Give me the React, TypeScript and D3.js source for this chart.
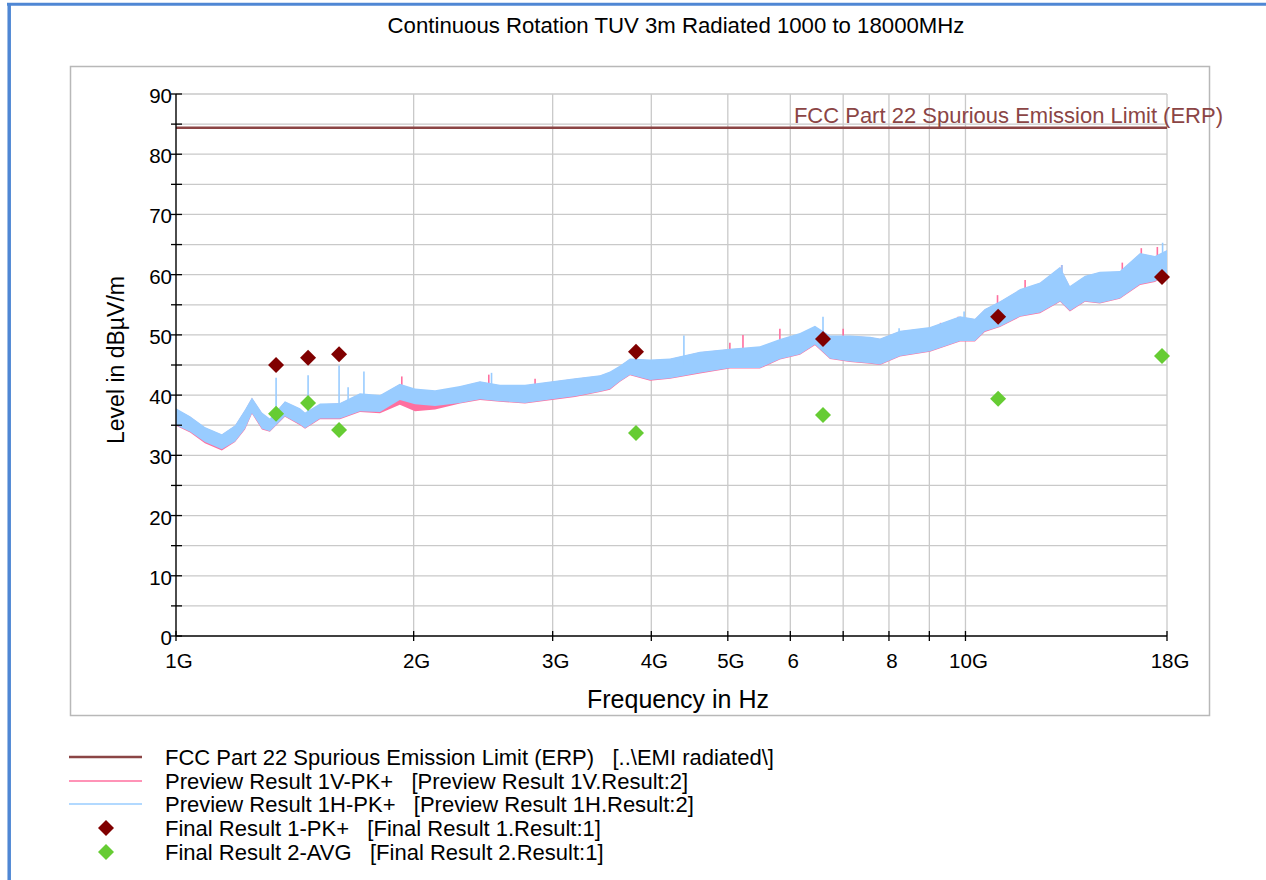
import React from "react";
import * as d3 from "d3";

const W = 1266;
const H = 880;

const TITLE = "Continuous Rotation TUV 3m Radiated 1000 to 18000MHz";
const X_LABEL = "Frequency in Hz";
const Y_LABEL = "Level in dB\u00B5V/m";
const LIMIT_LABEL = "FCC Part 22 Spurious Emission Limit (ERP)";
const LIMIT_LEVEL = 84.4;

const xTickValues = [1, 2, 3, 4, 5, 6, 8, 10, 18];
const xTickLabels = ["1G", "2G", "3G", "4G", "5G", "6", "8", "10G", "18G"];
const xMinorTicks = [1, 2, 3, 4, 5, 6, 7, 8, 9, 10, 18];
const yMajorTicks = [0, 10, 20, 30, 40, 50, 60, 70, 80, 90];
const yGridTicks = [5, 10, 15, 20, 25, 30, 35, 40, 45, 50, 55, 60, 65, 70, 75, 80, 85, 90];

// Preview traces (GHz), envelope
const traceFreq = [1.0, 1.042, 1.088, 1.143, 1.188, 1.223, 1.248, 1.285, 1.315, 1.374, 1.436, 1.457, 1.522, 1.613, 1.71, 1.813, 1.921, 2.008, 2.129, 2.289, 2.427, 2.573, 2.767, 2.994, 3.202, 3.444, 3.546, 3.651, 3.759, 3.986, 4.225, 4.61, 5.031, 5.491, 5.822, 6.171, 6.447, 6.736, 7.141, 7.57, 7.795, 8.262, 9.017, 9.841, 10.28, 10.58, 11.06, 11.73, 12.43, 13.18, 13.56, 14.17, 14.8, 15.69, 16.64, 17.38, 18.0];
const blueHigh = [37.8, 36.5, 34.7, 33.5, 35.0, 37.6, 39.6, 37.1, 36.1, 39.0, 37.8, 37.1, 38.6, 38.7, 40.3, 40.0, 41.9, 41.1, 40.8, 41.5, 42.3, 41.7, 41.7, 42.3, 42.8, 43.3, 43.9, 44.9, 46.1, 45.9, 46.1, 47.2, 47.7, 48.1, 49.3, 50.3, 51.5, 49.9, 49.9, 49.7, 49.4, 50.7, 51.3, 53.1, 52.7, 54.3, 55.6, 57.6, 58.7, 61.3, 58.1, 59.8, 60.5, 60.6, 63.6, 63.1, 64.1];
const blueLow = [35.0, 33.9, 32.2, 31.0, 32.3, 34.4, 37.0, 34.4, 34.0, 36.5, 35.1, 34.5, 36.1, 36.1, 37.3, 37.2, 39.2, 38.5, 38.2, 38.7, 39.3, 39.0, 38.7, 39.3, 39.8, 40.6, 41.0, 42.3, 43.4, 42.5, 42.8, 43.7, 44.5, 44.5, 46.0, 46.8, 48.4, 46.1, 45.6, 45.3, 45.1, 46.5, 47.3, 49.0, 49.0, 50.6, 51.4, 53.1, 53.7, 55.6, 54.0, 55.6, 55.3, 56.1, 58.4, 58.9, 60.1];
const pinkHigh = [37.7, 36.4, 34.6, 33.4, 34.9, 37.5, 39.5, 37.0, 36.0, 38.9, 37.7, 37.0, 38.5, 38.6, 40.2, 39.9, 41.8, 40.9, 40.6, 41.4, 42.2, 41.6, 41.6, 42.2, 42.7, 43.2, 43.8, 44.8, 46.0, 45.8, 46.0, 47.1, 47.6, 48.0, 49.2, 50.2, 51.4, 49.8, 49.8, 49.6, 49.3, 50.6, 51.2, 53.0, 52.6, 54.2, 55.5, 57.5, 58.6, 61.2, 58.0, 59.7, 60.4, 60.5, 63.5, 63.0, 64.0];
const pinkLow = [34.9, 33.8, 32.0, 30.8, 32.2, 34.3, 36.9, 34.3, 33.9, 36.4, 35.0, 34.4, 36.0, 36.0, 37.2, 37.0, 38.4, 37.3, 37.6, 38.6, 39.2, 38.9, 38.6, 39.2, 39.7, 40.5, 40.9, 42.2, 43.3, 42.4, 42.7, 43.6, 44.4, 44.4, 45.9, 46.7, 48.3, 46.0, 45.5, 45.2, 45.0, 46.4, 47.2, 48.9, 48.9, 50.5, 51.3, 53.0, 53.6, 55.5, 53.9, 55.5, 55.2, 56.0, 58.3, 58.8, 60.0];

// Narrow spikes on the preview traces
const spikeFreq = [1.339, 1.47, 1.609, 1.652, 1.73, 2.51, 4.399, 6.6, 8.24, 9.96, 13.25, 17.77, 1.932, 2.49, 2.85, 5.03, 5.226, 5.82, 7.0, 9.3, 9.79, 10.98, 11.9, 12.9, 13.24, 15.8, 16.7, 17.5];
const spikeTop = [42.9, 43.3, 44.9, 41.3, 43.9, 43.7, 49.9, 53.0, 51.1, 53.9, 61.6, 65.3, 43.1, 43.4, 42.7, 48.7, 50.0, 51.0, 51.0, 52.0, 53.0, 56.6, 59.1, 59.6, 61.6, 62.0, 64.4, 64.6];
const spikeBase = [36.0, 37.0, 37.5, 38.0, 38.5, 41.0, 45.0, 49.0, 49.5, 52.0, 59.0, 61.5, 40.5, 40.5, 40.5, 46.5, 46.5, 48.0, 48.5, 50.0, 51.5, 53.5, 56.0, 57.0, 58.5, 59.0, 61.5, 61.5];
const spikeSeries = ["H", "H", "H", "H", "H", "H", "H", "H", "H", "H", "H", "H", "V", "V", "V", "V", "V", "V", "V", "V", "V", "V", "V", "V", "V", "V", "V", "V"];

// Final results
const pkFreq = [1.339, 1.47, 1.609, 3.825, 6.6, 11.0, 17.74];
const pkLevel = [45.0, 46.2, 46.8, 47.2, 49.3, 53.0, 59.6];
const avgFreq = [1.339, 1.47, 1.609, 3.825, 6.6, 11.0, 17.74];
const avgLevel = [36.9, 38.7, 34.2, 33.7, 36.7, 39.4, 46.5];

const legendLabels = [
  "FCC Part 22 Spurious Emission Limit (ERP)   [..\\EMI radiated\\]",
  "Preview Result 1V-PK+   [Preview Result 1V.Result:2]",
  "Preview Result 1H-PK+   [Preview Result 1H.Result:2]",
  "Final Result 1-PK+   [Final Result 1.Result:1]",
  "Final Result 2-AVG   [Final Result 2.Result:1]",
];

const C_LIMIT = "#8b4545";
const C_PINK = "#ff6f9f";
const C_BLUE = "#99ccff";
const C_PK = "#800000";
const C_AVG = "#66cc33";
const FONT = "'Liberation Sans', Arial, Helvetica, sans-serif";

export default function App() {
  const x = d3.scaleLog().domain([1, 18]).range([176, 1167]);
  const y = d3.scaleLinear().domain([0, 90]).range([636, 94]);

  const pinkArea = d3
    .area<number>()
    .x((_, i) => x(traceFreq[i]))
    .y0((_, i) => y(pinkLow[i]))
    .y1((_, i) => y(pinkHigh[i]));
  const blueArea = d3
    .area<number>()
    .x((_, i) => x(traceFreq[i]))
    .y0((_, i) => y(blueLow[i]))
    .y1((_, i) => y(blueHigh[i]));

  const diamond = d3.symbol(d3.symbolSquare, 128)() as string;

  const legendY = [757, 781, 804, 828, 852];

  return (
    <svg
      width={W}
      height={H}
      style={{ position: "absolute", left: 0, top: 0, background: "#fff" }}
      fontFamily={FONT}
    >
      <rect x={0} y={0} width={W} height={H} fill="#fff" />
      {/* window border */}
      <line x1={7} x2={W} y1={4.2} y2={4.2} stroke="#4f87d4" strokeWidth={3} />
      <line x1={9.2} x2={9.2} y1={3} y2={H} stroke="#4f87d4" strokeWidth={3.5} />

      <text x={676} y={33} fontSize={22.2} textAnchor="middle" fill="#000">
        {TITLE}
      </text>

      {/* chart frame */}
      <rect x={70.5} y={66.5} width={1139} height={649} fill="#fff" stroke="#b8b8b8" strokeWidth={1.5} />

      {/* grid */}
      {yGridTicks.map((v) => (
        <line key={"hg" + v} x1={x(1)} x2={x(18)} y1={y(v)} y2={y(v)} stroke="#c9c9c9" strokeWidth={1.3} />
      ))}
      {xMinorTicks.slice(1).map((v) => (
        <line key={"vg" + v} x1={x(v)} x2={x(v)} y1={y(90)} y2={y(0)} stroke="#c9c9c9" strokeWidth={1.3} />
      ))}

      {/* traces */}
      <path d={pinkArea(traceFreq) as string} fill={C_PINK} />
      {spikeFreq.map((f, i) =>
        spikeSeries[i] === "V" ? (
          <line key={"sv" + i} x1={x(f)} x2={x(f)} y1={y(spikeBase[i])} y2={y(spikeTop[i])} stroke={C_PINK} strokeWidth={1.6} />
        ) : null
      )}
      <path d={blueArea(traceFreq) as string} fill={C_BLUE} />
      {spikeFreq.map((f, i) =>
        spikeSeries[i] === "H" ? (
          <line key={"sh" + i} x1={x(f)} x2={x(f)} y1={y(spikeBase[i])} y2={y(spikeTop[i])} stroke={C_BLUE} strokeWidth={1.6} />
        ) : null
      )}

      {/* limit */}
      <line x1={x(1)} x2={x(18)} y1={y(LIMIT_LEVEL)} y2={y(LIMIT_LEVEL)} stroke={C_LIMIT} strokeWidth={2.6} />
      <text x={1223} y={123} fontSize={22} textAnchor="end" fill={C_LIMIT}>
        {LIMIT_LABEL}
      </text>

      {/* final results */}
      {avgFreq.map((f, i) => (
        <path key={"avg" + i} d={diamond} transform={`translate(${x(f)},${y(avgLevel[i])}) rotate(45)`} fill={C_AVG} />
      ))}
      {pkFreq.map((f, i) => (
        <path key={"pk" + i} d={diamond} transform={`translate(${x(f)},${y(pkLevel[i])}) rotate(45)`} fill={C_PK} />
      ))}

      {/* axes */}
      <line x1={x(1)} x2={x(1)} y1={y(0)} y2={y(90)} stroke="#000" strokeWidth={1.4} />
      <line x1={x(1)} x2={x(18)} y1={y(0)} y2={y(0)} stroke="#000" strokeWidth={1.4} />
      {yGridTicks.concat([0]).map((v) => (
        <line key={"yt" + v} x1={x(1) - 5} x2={x(1) + 6} y1={y(v)} y2={y(v)} stroke="#000" strokeWidth={1.3} />
      ))}
      {yMajorTicks.map((v) => (
        <text key={"yl" + v} x={x(1) - 4} y={y(v) + 9} fontSize={20.5} textAnchor="end" fill="#000">
          {v}
        </text>
      ))}
      {xMinorTicks.map((v) => (
        <line key={"xt" + v} x1={x(v)} x2={x(v)} y1={y(0) - 5} y2={y(0) + 5} stroke="#000" strokeWidth={1.3} />
      ))}
      {xTickValues.map((v, i) => (
        <text key={"xl" + v} x={x(v) + 3} y={668} fontSize={20.5} textAnchor="middle" fill="#000">
          {xTickLabels[i]}
        </text>
      ))}

      <text x={678} y={708} fontSize={25} textAnchor="middle" fill="#000">
        {X_LABEL}
      </text>
      <text transform="translate(124,360) rotate(-90)" fontSize={23} textAnchor="middle" fill="#000">
        {Y_LABEL}
      </text>

      {/* legend */}
      <line x1={69} x2={142} y1={legendY[0]} y2={legendY[0]} stroke={C_LIMIT} strokeWidth={2.6} />
      <line x1={69} x2={142} y1={legendY[1]} y2={legendY[1]} stroke={C_PINK} strokeWidth={1.3} />
      <line x1={69} x2={142} y1={legendY[2]} y2={legendY[2]} stroke={C_BLUE} strokeWidth={1.3} />
      <path d={diamond} transform={`translate(106,${legendY[3]}) rotate(45)`} fill={C_PK} />
      <path d={diamond} transform={`translate(106,${legendY[4]}) rotate(45)`} fill={C_AVG} />
      {legendLabels.map((t, i) => (
        <text key={"lg" + i} x={165} y={legendY[i] + 7.5} fontSize={22} fill="#000" style={{ whiteSpace: "pre" }}>
          {t}
        </text>
      ))}
    </svg>
  );
}
